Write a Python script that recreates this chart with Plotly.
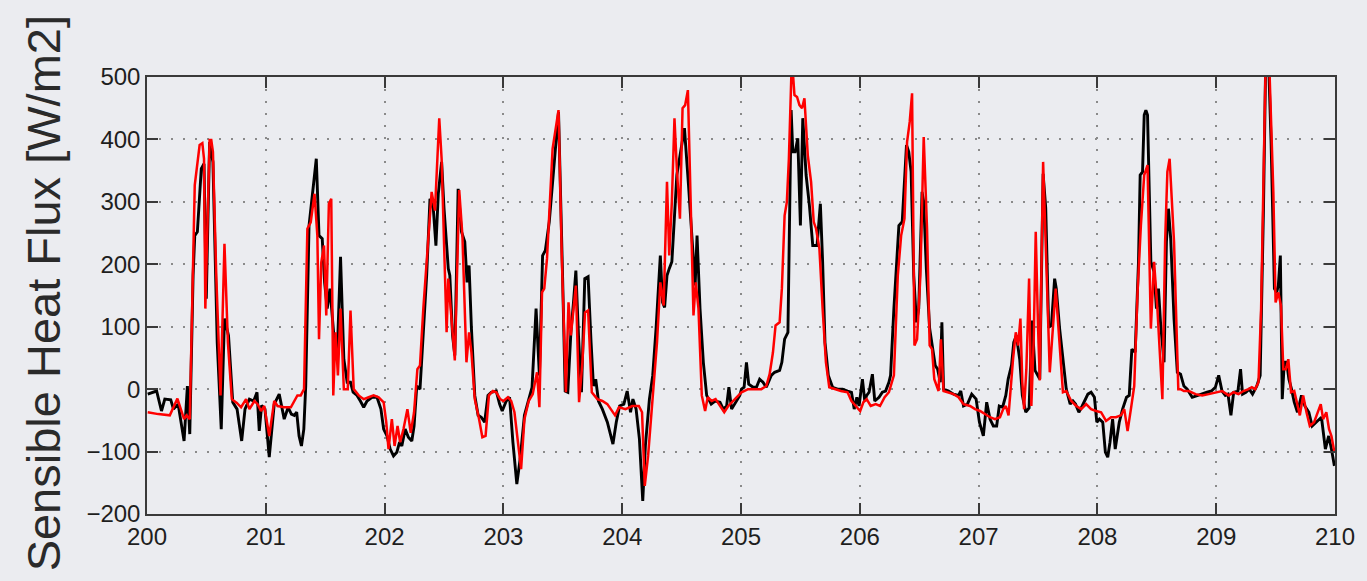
import plotly.graph_objects as go

# Day of year (decimal) and sensible heat flux [W/m2] -- measured series (black)
obs_day = [
    200.006, 200.081, 200.122, 200.15, 200.2, 200.223, 200.262, 200.312, 200.34, 200.36,
    200.388, 200.402, 200.424, 200.457, 200.48, 200.499, 200.527, 200.555, 200.591, 200.625,
    200.652, 200.686, 200.722, 200.758, 200.797, 200.825, 200.862, 200.898, 200.926, 200.945,
    200.965, 200.993, 201.029, 201.071, 201.113, 201.155, 201.188, 201.215,
    201.24, 201.26, 201.28, 201.30, 201.32, 201.336, 201.364, 201.392, 201.425, 201.448,
    201.475, 201.495, 201.517, 201.54, 201.573, 201.6, 201.629, 201.643, 201.657, 201.685,
    201.713, 201.735, 201.768, 201.796, 201.824, 201.852, 201.894, 201.936, 201.969, 201.992,
    202.02, 202.047, 202.075, 202.103, 202.126, 202.145, 202.173, 202.2, 202.229, 202.248,
    202.271, 202.298, 202.326, 202.354, 202.382, 202.41, 202.432, 202.452, 202.48, 202.5,
    202.536, 202.549, 202.572, 202.591, 202.619, 202.647, 202.675, 202.694, 202.711, 202.731,
    202.759, 202.787, 202.814, 202.842, 202.87, 202.898, 202.94, 202.968, 202.99, 203.024,
    203.052, 203.08, 203.113, 203.141, 203.177, 203.213, 203.241, 203.275, 203.303, 203.33,
    203.353, 203.386, 203.428, 203.464, 203.498, 203.52, 203.542, 203.568, 203.59, 203.61,
    203.632, 203.657, 203.685, 203.713, 203.738, 203.758,
    203.777, 203.8, 203.833, 203.875, 203.922, 203.95, 203.978, 204.014, 204.042, 204.07,
    204.09, 204.117, 204.145, 204.173, 204.195, 204.229, 204.257, 204.285, 204.321, 204.34,
    204.357, 204.377, 204.396, 204.418, 204.46, 204.502, 204.524, 204.558, 204.586, 204.614,
    204.63, 204.655, 204.683, 204.711, 204.749, 204.782, 204.823, 204.851, 204.879, 204.898,
    204.921, 204.954, 204.99,
    205.004, 205.026, 205.046, 205.065, 205.102, 205.13, 205.157, 205.185, 205.213, 205.255,
    205.283, 205.325, 205.344, 205.367, 205.395, 205.409, 205.422, 205.436, 205.456, 205.478,
    205.5, 205.52, 205.548, 205.576, 205.604, 205.64, 205.668, 205.687, 205.707, 205.735,
    205.771, 205.813, 205.855, 205.897, 205.93, 205.953, 205.975, 205.994, 206.022, 206.042,
    206.058, 206.078, 206.106, 206.126, 206.162, 206.19, 206.217, 206.245,
    206.259, 206.287, 206.329, 206.357, 206.393, 206.412, 206.432, 206.454, 206.477, 206.496,
    206.524, 206.538, 206.56, 206.588, 206.608, 206.635, 206.655, 206.677, 206.691, 206.705,
    206.747, 206.789, 206.831, 206.85, 206.873, 206.906, 206.942, 206.979, 207.007, 207.04,
    207.068, 207.096, 207.124, 207.152, 207.174, 207.202, 207.229, 207.249, 207.277, 207.296,
    207.318, 207.346, 207.368, 207.397, 207.425, 207.45, 207.475, 207.515, 207.543, 207.565,
    207.59, 207.613, 207.64, 207.654, 207.682, 207.71, 207.738, 207.771, 207.794, 207.816,
    207.844, 207.872, 207.92, 207.947, 207.975, 207.995, 208.017, 208.045, 208.067, 208.087,
    208.106, 208.128, 208.15, 208.184, 208.212, 208.245, 208.268, 208.29, 208.318, 208.346,
    208.36, 208.38, 208.394, 208.408, 208.422, 208.45, 208.477, 208.497, 208.514, 208.533,
    208.561, 208.581, 208.598, 208.617, 208.645, 208.673, 208.7, 208.728, 208.756,
    208.798, 208.84, 208.882, 208.923, 208.96, 208.993, 209.021, 209.049, 209.077, 209.099,
    209.124, 209.147, 209.183, 209.205, 209.222, 209.25, 209.278, 209.306, 209.342, 209.37,
    209.398, 209.417, 209.44, 209.462, 209.49, 209.509, 209.523, 209.54, 209.556, 209.573,
    209.593, 209.612, 209.634, 209.657, 209.684, 209.718, 209.746, 209.78, 209.808, 209.844,
    209.886, 209.919, 209.947, 209.97, 209.995,
]
obs_flux = [
    -8, -3, -35, -16, -17, -32, -24, -83, 5, -72,
    182, 246, 252, 353, 361, 145, 396, 364, 75, -64,
    113, 86, -21, -32, -83, -32, -16, -19, -5, -67,
    -26, -32, -109, -24, -8, -48, -29, -40,
    -42, -37, -75, -91, -64, 5, 262, 316, 369, 246,
    241, 171, 129, 161, 86, 48, 212, 129, 48, 11,
    11, -5, -10, -19, -29, -19, -13, -13, -32, -64,
    -75, -96, -107, -101, -85, -91, -64, -77, -83, -59,
    5, 0, 96, 182, 305, 289, 230, 313, 364, 290,
    193, 182, 86, 54, 321, 252, 236, 171, 198, 97,
    -10, -42, -45, -53, -10, -5, -3, -24, -35, -19,
    -13, -85, -152, -112, -42, -16, 3, 129, 22, 214,
    222, 268, 369, 444, 182, -3, -5, 91, 139, 190,
    86, -5, 177, 180, 75, 5,
    16, -19, -32, -53, -88, -53, -27, -24, -3, -37,
    -16, -32, -80, -179, -91, -16, 22, 97, 214, 139,
    131, 182, 193, 204, 343, 396, 418, 327, 246, 166,
    246, 129, 43, -10, -24, -19, -21, -32, -27, 3,
    -32, -21, -10,
    0, 3, 43, 8, 3, 3, 16, 11, 3, 22,
    27, 30, 43, 80, 91, 305, 447, 380, 380, 402,
    262, 434, 343, 294, 230, 230, 297, 204, 75, 22,
    3, 0, 0, -3, -5, -32, -13, -27, 16, -19,
    -10, -5, 24, -19, -13, -5, -3, 11,
    22, 129, 262, 268, 391, 380, 348, 182, 107, 129,
    316, 300, 193, 97, 70, 38, 32, 11, 107, 0,
    -3, -8, -10, -3, -27, -24, -8, -16, -53, -75,
    -21, -48, -59, -59, -27, -29, -10, 16, 38, 75,
    86, 48, -10, -37, -30, 110, 30, 16, 345, 290,
    99, 102, 177, 161, 97, 43, 0, -24, -19, -24,
    -37, -27, -8, -5, -13, -53, -48, -53, -101, -109,
    -85, -48, -96, -53, -32, -13, -10, 64, 59, 204,
    343, 348, 439, 447, 439, 204, 188, 129, 161, 102,
    43, 236, 289, 241, 113, 27, 24, 5, 0,
    -13, -10, -8, -5, -3, 3, 22, -3, -10, -8,
    -42, -5, -3, 32, -8, -5, 0, -8, 5, 22,
    289, 530, 530, 396, 161, 155, 166, 214, -16, 43,
    43, 16, 0, -21, -37, -10, -27, -37, -59, -53,
    -45, -96, -75, -96, -123,
]

# Day of year (decimal) and sensible heat flux [W/m2] -- simulated series (red)
model_day = [
    200.006, 200.095, 200.192, 200.256, 200.312, 200.332, 200.36, 200.379, 200.402, 200.443,
    200.466, 200.48, 200.491, 200.527, 200.541, 200.555, 200.583, 200.619, 200.652, 200.681,
    200.714, 200.756, 200.792, 200.834, 200.862, 200.904, 200.931, 200.96, 200.987, 201.029,
    201.071, 201.099, 201.155, 201.211,
    201.266, 201.294, 201.322, 201.35, 201.378, 201.41, 201.434, 201.448, 201.467, 201.49,
    201.509, 201.531, 201.551, 201.568, 201.587, 201.607, 201.629, 201.657, 201.69, 201.713,
    201.74, 201.782, 201.824, 201.866, 201.908, 201.95, 201.992, 202.014, 202.033, 202.061,
    202.084, 202.109, 202.131, 202.159, 202.192, 202.22, 202.248, 202.276, 202.298, 202.326,
    202.368, 202.396, 202.424, 202.46, 202.48,
    202.522, 202.536, 202.564, 202.591, 202.628, 202.655, 202.689, 202.711, 202.731, 202.759,
    202.795, 202.823, 202.85, 202.878, 202.912, 202.94, 202.973, 203.0, 203.038, 203.066,
    203.093, 203.121, 203.149, 203.177, 203.213, 203.247, 203.283, 203.303, 203.325, 203.344,
    203.367, 203.414, 203.464, 203.492, 203.526, 203.548, 203.568, 203.61, 203.637, 203.665,
    203.687, 203.713, 203.744,
    203.791, 203.833, 203.875, 203.903, 203.94, 203.973, 204.028, 204.084, 204.14, 204.167,
    204.19, 204.218, 204.251, 204.293, 204.321, 204.349, 204.377, 204.396, 204.418, 204.44,
    204.46, 204.486, 204.508, 204.53, 204.553, 204.577, 204.6, 204.619, 204.642, 204.67,
    204.698, 204.72, 204.753, 204.786, 204.823, 204.859, 204.893, 204.934, 204.976,
    205.004, 205.06, 205.116, 205.171, 205.213, 205.241, 205.269, 205.291, 205.325, 205.344,
    205.367, 205.386, 205.403, 205.417, 205.428, 205.45, 205.472, 205.492, 205.514, 205.534,
    205.562, 205.59, 205.612, 205.632, 205.66, 205.687, 205.715, 205.743, 205.785, 205.841,
    205.897, 205.93, 205.966, 206.003, 206.03, 206.058, 206.092, 206.134, 206.17, 206.209,
    206.245,
    206.287, 206.32, 206.348, 206.376, 206.398, 206.42, 206.44, 206.46, 206.482, 206.51,
    206.538, 206.566, 206.588, 206.608, 206.627, 206.663, 206.683, 206.705, 206.747, 206.789,
    206.831, 206.873, 206.928, 206.97, 207.012, 207.054, 207.096, 207.138, 207.18, 207.207,
    207.229, 207.252, 207.268, 207.29, 207.313, 207.333, 207.352, 207.368, 207.383, 207.402,
    207.425, 207.444, 207.464, 207.481, 207.5, 207.515, 207.543, 207.575, 207.599, 207.649,
    207.682, 207.71,
    207.738, 207.78, 207.822, 207.864, 207.905, 207.947, 207.989, 208.031, 208.073, 208.115,
    208.156, 208.198, 208.226, 208.254, 208.282, 208.31, 208.338, 208.366, 208.394, 208.422,
    208.45, 208.477, 208.505, 208.547, 208.57, 208.589, 208.608, 208.645, 208.681, 208.7,
    208.728,
    208.77, 208.826, 208.882, 208.937, 208.993, 209.049, 209.105, 209.147, 209.188, 209.23,
    209.272, 209.3, 209.328, 209.356, 209.378, 209.398, 209.417, 209.445, 209.481, 209.5,
    209.523, 209.545, 209.565, 209.587, 209.607, 209.63, 209.657, 209.704, 209.732, 209.76,
    209.788, 209.824, 209.858, 209.88, 209.9, 209.927, 209.95, 209.97, 209.995,
]
model_flux = [
    -37, -40, -42, -15, -48, -42, -48, 129, 327, 391,
    394, 369, 129, 399, 399, 380, 182, -10, 233, 75,
    -16, -22, -29, -16, -32, -19, -24, -35, -27, -75,
    -19, -27, -29, -29,
    -10, -10, 0, 257, 267, 313, 246, 80, 203, 230,
    118, 297, 305, -10, 91, 22, 129, 0, 0, 126,
    0, -10, -16, -13, -10, -13, -21, -53, -96, -48,
    -91, -59, -85, -64, -32, -70, -37, 32, 38, 129,
    246, 316, 286, 434, 369,
    91, 177, 107, 46, 319, 246, 43, 91, 59, -16,
    -48, -77, -75, -10, -3, -5, -16, -19, -13, -19,
    -37, -80, -128, -48, -19, -8, 27, -29, 155, 161,
    209, 385, 447, 209, -5, 139, 86, 166, -21, 43,
    123, 126, -5,
    -16, -19, -24, -32, -42, -29, -32, -27, -27, -37,
    -155, -107, -21, 75, 171, 134, 332, 214, 300, 434,
    353, 273, 450, 455, 479, 300, 118, 171, 129, -10,
    -35, -13, -19, -16, -27, -37, -27, -19, -10,
    -5, 0, 0, 0, 5, 24, 59, 102, 107, 161,
    278, 300, 369, 498, 530, 471, 468, 455, 450, 466,
    375, 332, 268, 257, 225, 129, 43, 3, 0, -3,
    -5, -19, -27, -35, -21, -16, -27, -24, -27, -13,
    -5,
    22, 182, 246, 273, 396, 428, 474, 70, 80, 182,
    404, 257, 70, 64, 16, -3, 80, -3, -5, -8,
    -13, -24, -27, -32, -35, -40, -45, -48, -45, -32,
    -27, -42, 0, 48, 91, 70, 113, 11, -32, 32,
    177, -27, 80, 252, 102, 14, 364, 150, 27, 161,
    75, -5,
    -3, -19, -27, -32, -24, -32, -35, -37, -51, -45,
    -45, -42, -32, -67, -32, 5, 155, 262, 343, 359,
    97, 204, 129, -16, 236, 348, 369, 236, 0, 0,
    -3,
    -3, -8, -10, -8, -5, -3, -10, -5, -8, -3,
    0, 3, 0, 11, 129, 343, 530, 530, 316, 139,
    155, 134, 32, 32, 48, -5, -3, -42, -10, -37,
    -59, -53, -37, -24, -48, -37, -64, -75, -101,
]

day_ticks = list(range(200, 211))
flux_ticks = list(range(-200, 501, 100))

BG = "#ebecf0"
FRAME = "#3a3a3a"
TEXT = "#1e1e1e"

fig = go.Figure()
fig.add_trace(go.Scatter(
    x=obs_day, y=obs_flux, mode="lines",
    line=dict(color="#000000", width=2.9),
    showlegend=False, hoverinfo="skip",
))
fig.add_trace(go.Scatter(
    x=model_day, y=model_flux, mode="lines",
    line=dict(color="#ff0000", width=2.5),
    showlegend=False, hoverinfo="skip",
))

axis_common = dict(
    showline=True, linecolor=FRAME, linewidth=1.5, mirror="ticks",
    ticks="inside", ticklen=11, tickwidth=1.5, tickcolor=FRAME,
    showgrid=True, gridcolor="#8a8a8a", gridwidth=1.5, griddash="2px,10px",
    zeroline=False,
    tickfont=dict(family="Liberation Sans, Arial, sans-serif", size=24, color=TEXT),
)

fig.update_layout(
    width=1367, height=581,
    margin=dict(l=147, r=25, t=77, b=67),
    paper_bgcolor=BG, plot_bgcolor=BG,
    xaxis=dict(range=[200, 210], tickmode="array", tickvals=day_ticks,
               ticktext=[str(d) for d in day_ticks], **axis_common),
    yaxis=dict(range=[-200, 500], tickmode="array", tickvals=flux_ticks, **axis_common),
    annotations=[dict(
        text="Sensible Heat Flux [W/m2]", textangle=-90,
        xref="paper", yref="paper", x=-0.0875, y=0.505,
        xanchor="center", yanchor="middle", showarrow=False,
        font=dict(family="Liberation Sans, Arial, sans-serif", size=47, color="#2a2a2a"),
    )],
)

fig.write_html("out.html")
